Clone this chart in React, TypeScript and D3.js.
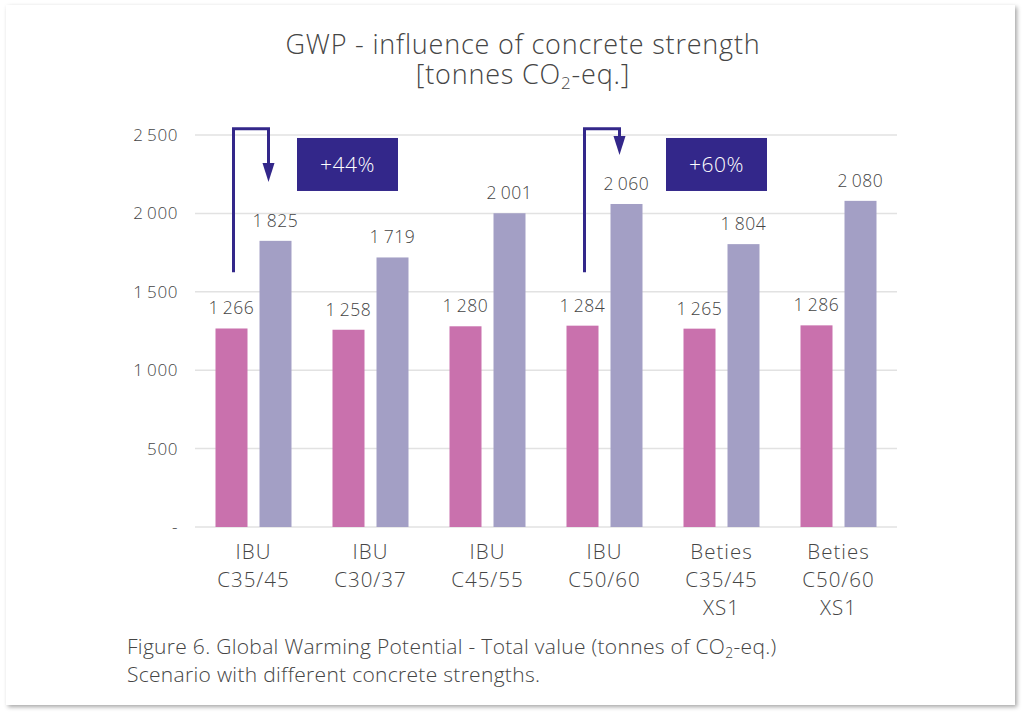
import React from 'react';
import * as d3 from 'd3';

// Values
const categories = [
  ['IBU', 'C35/45'],
  ['IBU', 'C30/37'],
  ['IBU', 'C45/55'],
  ['IBU', 'C50/60'],
  ['Beties', 'C35/45', 'XS1'],
  ['Beties', 'C50/60', 'XS1'],
];
const seriesA = [1266, 1258, 1280, 1284, 1265, 1286];
const seriesB = [1825, 1719, 2001, 2060, 1804, 2080];
const yTicks = [0, 500, 1000, 1500, 2000, 2500];

// increase callouts: group index, label, arrow start / top / tip values
const callouts = [
  { group: 0, label: '+44%', from: 1625, top: 2540, tip: 2200 },
  { group: 3, label: '+60%', from: 1625, top: 2540, tip: 2372 },
];

const W = 1024;
const H = 712;
const margin = { left: 195, right: 127, top: 135, bottom: 185 };
const FONT = "'Open Sans', Lato, sans-serif";
const TEXT = '#454545';
const PINK = '#c971ad';
const PURPLE = '#a39fc5';
const NAVY = '#33278a';

const fmt = d3.formatLocale({ decimal: '.', thousands: '\u2009', grouping: [3], currency: ['', ''] }).format(',d');

export default function App() {
  const x = d3
    .scaleBand<number>()
    .domain(d3.range(categories.length))
    .range([margin.left, W - margin.right]);
  const y = d3.scaleLinear().domain([0, 2500]).range([H - margin.bottom, margin.top]);

  const barW = 32;
  const gap = 12;
  const pairStart = (x.bandwidth() - (barW * 2 + gap)) / 2;
  const xa = (i: number) => (x(i) as number) + pairStart;
  const xb = (i: number) => xa(i) + barW + gap;

  return (
    <div style={{ position: 'absolute', left: 0, top: 0 }}>
      <svg width={W} height={H} style={{ display: 'block' }} fontFamily={FONT} fontWeight={300}>
        <defs>
          <filter id="shadow" x="-5%" y="-5%" width="110%" height="110%">
            <feDropShadow dx="2" dy="2" stdDeviation="2" floodColor="#000" floodOpacity="0.35" />
          </filter>
        </defs>
        <rect width={W} height={H} fill="#fff" />
        <rect x={6} y={5} width={1009} height={700} fill="#fff" filter="url(#shadow)" />

        {/* title */}
        <text x={523} y={54} textAnchor="middle" fontSize={27} letterSpacing={0.8} fill={TEXT}>
          GWP - influence of concrete strength
        </text>
        <text x={523} y={84} textAnchor="middle" fontSize={27} letterSpacing={0.8} fill={TEXT}>
          [tonnes CO<tspan fontSize={17} baselineShift="-30%">2</tspan>-eq.]
        </text>

        {/* grid + y axis */}
        {yTicks.map((t) => (
          <g key={t}>
            <line x1={margin.left} x2={W - margin.right} y1={y(t)} y2={y(t)} stroke="#e2e2e2" strokeWidth={1.5} />
            <text x={178} y={y(t)} dy="0.35em" textAnchor="end" fontSize={17} letterSpacing={0.6} fill={TEXT}>
              {t === 0 ? '-' : fmt(t)}
            </text>
          </g>
        ))}

        {/* bars */}
        {seriesA.map((v, i) => (
          <g key={i}>
            <rect x={xa(i)} y={y(v)} width={barW} height={y(0) - y(v)} fill={PINK} />
            <rect x={xb(i)} y={y(seriesB[i])} width={barW} height={y(0) - y(seriesB[i])} fill={PURPLE} />
            <text x={xa(i) + barW / 2} y={y(v) - 14} textAnchor="middle" fontSize={17.5} letterSpacing={0.6} fill={TEXT}>
              {fmt(v)}
            </text>
            <text
              x={xb(i) + barW / 2}
              y={y(seriesB[i]) - 14}
              textAnchor="middle"
              fontSize={17.5}
              letterSpacing={0.6}
              fill={TEXT}
            >
              {fmt(seriesB[i])}
            </text>
          </g>
        ))}

        {/* category labels */}
        {categories.map((lines, i) => (
          <text key={i} textAnchor="middle" fontSize={20.5} letterSpacing={1} fill={TEXT}>
            {lines.map((l, k) => (
              <tspan key={k} x={(x(i) as number) + x.bandwidth() / 2} y={559 + k * 28}>
                {l}
              </tspan>
            ))}
          </text>
        ))}

        {/* callouts */}
        {callouts.map((c, k) => {
          const x1 = xa(c.group) + barW / 2 + 2;
          const x2 = xb(c.group) + barW / 2 - 7;
          const tipY = y(c.tip);
          const headH = 19;
          const boxX = k === 0 ? (x(c.group + 1) as number) - 15 : (x(c.group + 1) as number) + 3;
          return (
            <g key={k}>
              <path
                d={`M${x1},${y(c.from)}V${y(c.top)}H${x2}V${tipY - headH + 2}`}
                fill="none"
                stroke={NAVY}
                strokeWidth={3}
              />
              <path d={`M${x2 - 6},${tipY - headH}L${x2 + 6},${tipY - headH}L${x2},${tipY}Z`} fill={NAVY} />
              <rect x={boxX} y={y(2481)} width={101} height={y(2143) - y(2481)} fill={NAVY} />
              <text
                x={boxX + 50.5}
                y={(y(2481) + y(2143)) / 2}
                dy="0.35em"
                textAnchor="middle"
                fontSize={21}
                letterSpacing={0.5}
                fill="#fff"
              >
                {c.label}
              </text>
            </g>
          );
        })}

        {/* caption */}
        <text x={127} y={654} fontSize={21} letterSpacing={0.3} fill={TEXT}>
          Figure 6. Global Warming Potential - Total value (tonnes of CO<tspan fontSize={14} baselineShift="-30%">2</tspan>-eq.)
        </text>
        <text x={127} y={682} fontSize={21} letterSpacing={0.3} fill={TEXT}>
          Scenario with different concrete strengths.
        </text>
      </svg>
    </div>
  );
}
